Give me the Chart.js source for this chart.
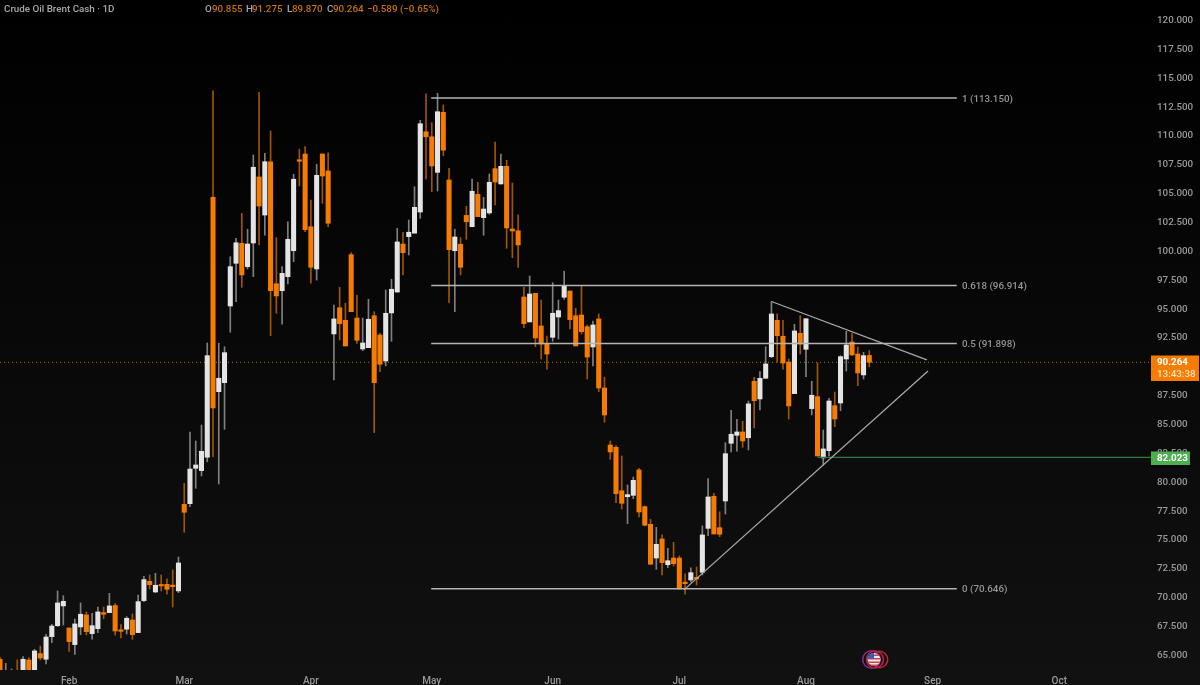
<!DOCTYPE html>
<html>
<head>
<meta charset="utf-8">
<title>Crude Oil Brent Cash</title>
<script src="https://cdn.jsdelivr.net/npm/chart.js@4/dist/chart.umd.min.js"></script>
<style>
  html, body { margin: 0; padding: 0; background: #000; overflow: hidden; }
  #wrap { width: 1200px; height: 685px; background: linear-gradient(#000000, #111111); }
  canvas { display: block; }
</style>
</head>
<body>
<div id="wrap"><canvas id="chartBrent" width="1200" height="685"></canvas></div>
<script>
const opens = [
  64.54,63.0,63.3,63.5,63.2,64.48,63.4,65.03,64.54,66.50,
  67.45,69.16,67.25,65.81,67.34,68.38,66.76,67.19,68.58,68.58,
  69.19,67.08,67.14,67.94,66.85,69.62,71.29,70.37,70.95,71.03,
  70.89,70.46,77.96,78.02,81.08,80.88,82.04,104.56,87.72,88.5,
  95.14,98.84,100.57,98.55,100.6,106.32,103.02,107.64,97.07,96.47,
  97.68,99.93,107.79,108.31,102.01,98.35,108.31,106.84,92.72,94.99,
  93.9,99.59,94.1,91.42,91.53,94.3,92.63,90.38,94.54,96.35,
  100.51,101.15,101.45,103.28,110.24,109.8,106.72,111.92,106.06,99.93,
  100.49,102.99,102.01,104.82,102.79,103.2,107.04,105.71,107.24,101.81,
  101.66,95.92,93.76,96.24,93.41,91.85,92.43,94.19,95.9,96.44,
  94.3,94.36,93.35,91.59,94.02,88.04,83.1,82.9,79.14,78.62,
  78.74,80.94,77.76,76.23,73.31,74.96,72.73,73.31,73.31,71.15,
  71.41,71.58,72.07,75.88,78.66,75.94,78.25,83.25,83.94,84.23,
  83.73,88.62,87.09,88.88,90.75,93.9,92.52,90.29,87.55,92.78,
  91.39,86.25,87.29,81.98,82.61,86.51,86.74,90.55,92.02,90.98,
  89.17,90.855
];
const highs = [
  64.7,64.19,63.7,64.48,64.77,64.68,65.40,65.69,66.7,67.57,
  70.46,70.05,67.25,68.03,69.42,68.64,68.52,69.07,69.07,70.25,
  69.36,67.54,68.23,68.46,70.11,71.73,71.84,71.99,71.84,71.5,
  72.28,73.4,79.78,84.23,83.45,84.83,91.94,113.79,91.91,91.62,
  99.41,101.01,103.17,101.79,108.22,113.65,108.37,110.3,101.06,98.55,
  102.44,106.55,108.72,108.94,104.32,107.42,108.31,108.42,95.23,96.76,
  95.38,99.76,96.07,94.1,95.72,94.65,92.78,96.53,97.46,101.87,
  101.53,102.59,105.48,111.23,113.51,111.02,113.57,112.55,107.07,101.79,
  101.06,103.78,106.14,105.86,104.56,106.58,109.35,108.31,107.76,105.8,
  103.03,96.76,97.74,96.24,95.66,92.54,97.16,95.66,98.15,96.44,
  94.94,96.87,93.5,93.84,94.45,88.97,83.45,83.04,82.15,79.64,
  80.33,81.08,77.82,76.67,75.97,75.31,74.15,74.67,73.49,71.93,
  72.47,72.53,76.09,80.2,78.92,77.32,83.30,86.11,85.33,85.15,
  86.91,88.97,89.45,91.62,95.52,94.45,93.9,90.55,93.56,94.3,
  94.04,88.62,90.23,84.4,87.15,87.69,90.84,92.95,92.78,91.59,
  91.13,91.275
];
const lows = [
  63.0,62.8,63.1,63.0,63.0,63.0,63.2,64.48,64.13,65.98,
  67.37,67.51,65.23,64.97,66.67,66.65,66.27,66.85,68.06,68.58,
  66.62,66.39,66.73,66.27,66.85,69.53,70.63,70.31,70.46,70.17,
  69.07,70.31,75.54,77.76,79.35,80.42,81.64,82.09,79.72,84.46,
  92.87,95.52,96.76,98.35,97.68,100.43,101.27,92.57,94.51,93.56,
  97.05,98.98,105.54,101.58,97.11,97.39,104.04,102.01,88.73,92.2,
  91.68,94.65,91.91,91.27,91.53,84.17,89.45,89.95,92.08,96.35,
  97.83,99.56,101.45,102.74,106.14,105.04,105.1,108.16,95.43,94.65,
  97.83,100.92,102.01,102.88,101.27,103.09,103.89,105.71,100.14,99.33,
  98.49,93.26,93.76,91.62,90.55,89.66,92.08,92.28,95.72,93.15,
  91.68,92.72,88.82,89.95,87.72,85.07,81.86,78.1,77.56,76.29,
  78.45,76.87,76.09,72.77,72.33,71.84,72.47,72.62,70.63,70.17,
  71.24,70.97,71.84,75.24,75.39,75.16,77.12,82.5,82.56,82.9,
  82.67,84.57,86.13,88.88,90.66,90.29,89.67,85.35,87.55,90.98,
  89.02,85.7,82.15,81.37,82.15,84.69,86.07,89.51,90.87,88.24,
  88.82,89.87
];
const closes = [
  63.2,63.3,63.5,63.2,64.54,63.3,65.26,64.65,66.47,67.42,
  69.42,69.56,66.07,67.6,68.44,66.93,67.45,68.64,68.44,69.16,
  66.99,66.96,68.09,66.67,69.53,71.44,71.0,70.95,70.89,70.6,
  70.83,72.88,77.27,81.02,81.37,82.55,90.84,86.31,88.88,91.10,
  98.55,100.62,97.83,100.51,107.16,103.8,107.64,96.47,96.01,97.97,
  100.92,106.12,107.68,101.75,98.49,106.46,106.4,102.31,94.02,93.61,
  91.68,94.65,92.17,91.94,93.99,88.5,90.09,94.51,96.59,100.69,
  99.76,101.53,103.69,110.93,109.8,107.27,111.97,108.64,100.02,101.12,
  98.49,102.44,105.08,102.88,103.54,105.86,105.88,107.24,101.9,101.64,
  100.43,93.61,96.18,92.37,91.85,90.98,94.51,94.74,96.85,93.96,
  91.68,92.92,90.72,93.5,88.04,85.7,82.5,78.88,78.05,78.8,
  80.04,77.3,76.15,72.77,74.5,72.91,73.08,72.82,70.63,71.09,
  72.04,71.5,75.31,78.6,75.39,75.37,82.35,84.03,84.23,83.45,
  86.66,86.94,88.88,90.12,94.45,92.57,90.2,86.48,92.98,91.85,
  94.04,87.41,82.15,82.76,86.91,85.35,90.75,91.76,90.9,89.34,
  90.84,90.264
];

const priceTicks = [120,117.5,115,112.5,110,107.5,105,102.5,100,97.5,95,92.5,90,87.5,85,82.5,80,77.5,75,72.5,70,67.5,65];
const monthBars = [12,32,54,75,96,118,140,162,184];
const monthNames = ['Feb','Mar','Apr','May','Jun','Jul','Aug','Sep','Oct'];

const fibLevels = [113.15,96.914,91.898,70.646];
const fibNames = ['1 (113.150)','0.618 (96.914)','0.5 (91.898)','0 (70.646)'];
const fibBars = [74.9,166.2];
const upperTrend = [{x:134,y:95.53},{x:161,y:90.47}];
const lowerTrend = [{x:118.8,y:70.55},{x:161.2,y:89.51}];
const supportPrice = 82.023;
const supportBars = [142,200];
const lastPrice = 90.264;
const lastBars = [0,200];

const ORANGE = '#f57c00';
const WHITE = '#e4e4e4';
const FONT = 'Roboto';
const candleIdx = closes.map((c, i) => i);
const isDown = candleIdx.map(i => closes[i] < opens[i]);

const wicks = candleIdx.map(i => ({x: i, y: [lows[i], highs[i]]}));
const bodies = candleIdx.map(i => ({x: i, y: [opens[i], closes[i]]}));

function hline(label, y, bars, color, width, dash, order) {
  return {
    type: 'line', label,
    data: bars.map(x => ({x, y})),
    borderColor: color, borderWidth: width, borderDash: dash || [],
    pointRadius: 0, order
  };
}

// texte et etiquettes par dessus le graphique
const overlay = {
  id: 'overlay',
  afterDraw(chart) {
    const ctx = chart.ctx;
    const yS = chart.scales.y;
    ctx.save();
    ctx.textBaseline = 'middle';
    ctx.textAlign = 'left';

    ctx.font = '500 9.8px ' + FONT;
    ctx.fillStyle = '#a8a8a8';
    ctx.fillText('Crude Oil Brent Cash · 1D', 4, 10);
    const parts = [['O',205,0],['90.855',212,1],['H',246,0],['91.275',252,1],['L',287,0],['89.870',292,1],['C',327,0],['90.264',333,1],['−0.589 (−0.65%)',367,1]];
    parts.forEach(p => {
      ctx.fillStyle = p[2] ? '#c9720f' : '#a8a8a8';
      ctx.fillText(p[0], p[1], 10);
    });

    ctx.font = '500 9.8px ' + FONT;
    ctx.fillStyle = '#959595';
    fibLevels.forEach((v, i) => ctx.fillText(fibNames[i], 962, yS.getPixelForValue(v) + 1));

    // prix courant
    ctx.fillStyle = ORANGE;
    ctx.fillRect(1151, 355.5, 48, 25.5);
    ctx.font = '700 9.8px ' + FONT;
    ctx.fillStyle = '#ffffff';
    ctx.fillText(lastPrice.toFixed(3), 1157, 363);
    ctx.font = '500 9.8px ' + FONT;
    ctx.fillStyle = '#ffe0bd';
    ctx.fillText('13:43:38', 1157, 375);

    // support
    ctx.fillStyle = '#4caf50';
    ctx.fillRect(1151, 451.5, 39, 13.5);
    ctx.font = '700 9.8px ' + FONT;
    ctx.fillStyle = '#ffffff';
    ctx.fillText(supportPrice.toFixed(3), 1157, 459);

    // pastille du calendrier
    ctx.lineWidth = 1.6;
    ctx.strokeStyle = '#7b2d8e';
    ctx.beginPath(); ctx.arc(871.5, 659.5, 8.8, 0, Math.PI * 2); ctx.stroke();
    ctx.strokeStyle = '#b5263a';
    ctx.beginPath(); ctx.arc(879.5, 659.5, 8.2, 0, Math.PI * 2); ctx.stroke();
    ctx.beginPath(); ctx.arc(875, 659.5, 8.5, 0, Math.PI * 2); ctx.stroke();
    ctx.save();
    ctx.beginPath(); ctx.arc(874, 659.5, 6.5, 0, Math.PI * 2); ctx.clip();
    ctx.fillStyle = '#e8e8e8'; ctx.fillRect(867, 652, 15, 15);
    ctx.fillStyle = '#d04050';
    [654.5, 658, 661.5, 664.5].forEach(y => ctx.fillRect(867, y, 15, 1.5));
    ctx.fillStyle = '#2f5fc0'; ctx.fillRect(867, 652, 7, 6.5);
    ctx.restore();
    ctx.restore();
  }
};

new Chart(document.getElementById('chartBrent').getContext('2d'), {
  type: 'bar',
  data: {
    datasets: [
      hline('Prix', lastPrice, lastBars, '#c4700c', 1, [1, 3], 5),
      {
        label: 'Mèches', data: wicks, barThickness: 1,
        backgroundColor: isDown.map(d => d ? '#a05600' : '#808080'),
        borderWidth: 0, grouped: false, order: 4
      },
      {
        label: 'Corps', data: bodies, barThickness: 4.4, minBarLength: 1.5,
        backgroundColor: isDown.map(d => d ? ORANGE : WHITE),
        borderWidth: 0, grouped: false, order: 3
      },
      ...fibLevels.map(v => hline('Fib', v, fibBars, '#b4b4b4', 1.5, null, 1)),
      {type: 'line', label: 'Haut', data: upperTrend, borderColor: '#a8a8a8', borderWidth: 1.3, pointRadius: 0, order: 1},
      {type: 'line', label: 'Bas', data: lowerTrend, borderColor: '#a8a8a8', borderWidth: 1.3, pointRadius: 0, order: 1},
      hline('Support', supportPrice, supportBars, '#2e7d32', 1.2, null, 1)
    ]
  },
  options: {
    responsive: false,
    animation: false,
    layout: { padding: 0 },
    plugins: { legend: { display: false }, tooltip: { enabled: false } },
    scales: {
      x: {
        type: 'linear', min: 0, max: 199.93, offset: false,
        grid: { display: false, drawTicks: false }, border: { display: false },
        afterFit(axis) { axis.height = 15; axis.paddingLeft = 0; axis.paddingRight = 0; },
        afterBuildTicks(axis) { axis.ticks = monthBars.map(value => ({value})); },
        ticks: {
          autoSkip: false, maxRotation: 0, padding: 5,
          color: '#9a9a9a', font: { family: FONT, size: 10, weight: '500' },
          callback: v => monthNames[monthBars.indexOf(v)]
        }
      },
      y: {
        type: 'linear', position: 'right', min: 63.61, max: 121.648,
        grid: { display: false, drawTicks: false }, border: { display: false },
        afterFit(axis) { axis.width = 49; axis.paddingTop = 0; axis.paddingBottom = 0; },
        afterBuildTicks(axis) { axis.ticks = priceTicks.map(value => ({value})); },
        ticks: {
          autoSkip: false, padding: 6, labelOffset: 1.5,
          color: '#9a9a9a', font: { family: FONT, size: 9.8, weight: '500' },
          callback: v => v.toFixed(3)
        }
      }
    }
  },
  plugins: [overlay]
});
</script>
</body>
</html>
